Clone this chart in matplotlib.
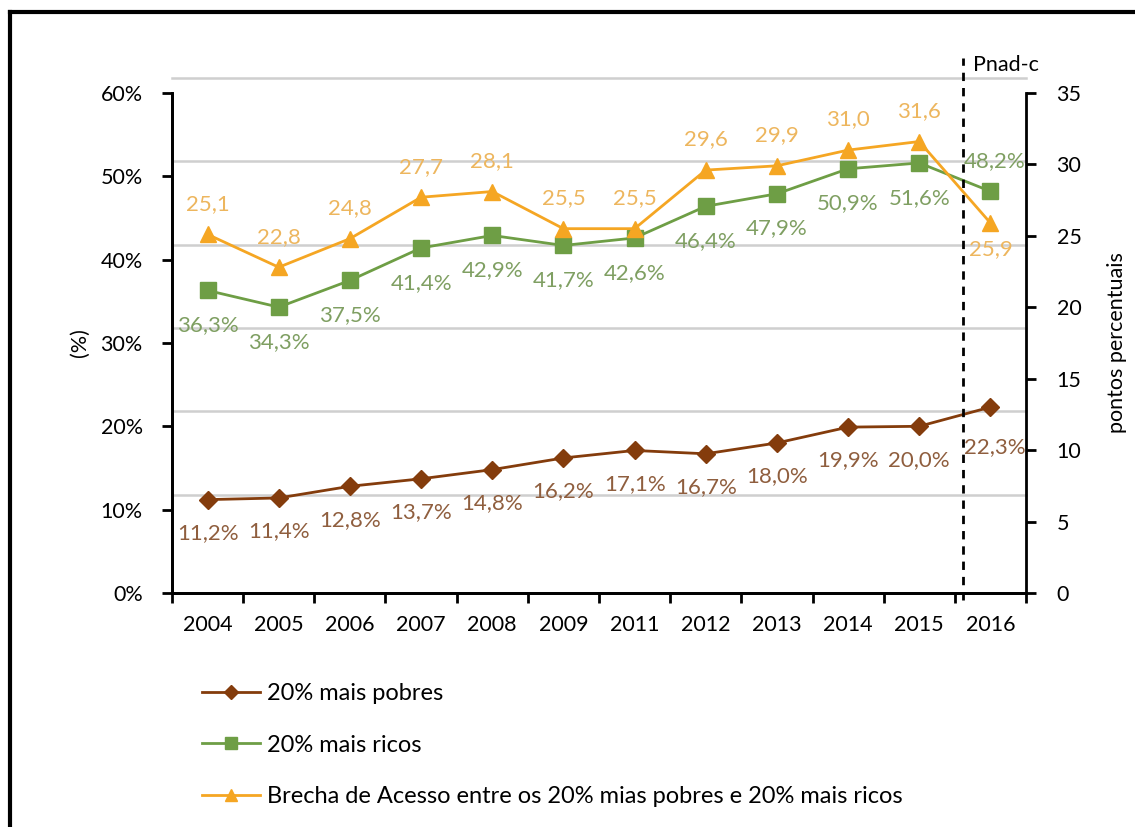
import matplotlib.pyplot as plt
from matplotlib.lines import Line2D

plt.rcParams['font.family'] = ['Lato', 'DejaVu Sans']

years = ['2004', '2005', '2006', '2007', '2008', '2009', '2011', '2012', '2013', '2014', '2015', '2016']
pobres = [11.2, 11.4, 12.8, 13.7, 14.8, 16.2, 17.1, 16.7, 18.0, 19.9, 20.0, 22.3]
ricos = [36.3, 34.3, 37.5, 41.4, 42.9, 41.7, 42.6, 46.4, 47.9, 50.9, 51.6, 48.2]
brecha = [25.1, 22.8, 24.8, 27.7, 28.1, 25.5, 25.5, 29.6, 29.9, 31.0, 31.6, 25.9]

c_pob, c_pob_txt = '#843C0C', '#8F5E3E'
c_ric, c_ric_txt = '#6E9E45', '#7F9F62'
c_bre, c_bre_txt = '#F5A623', '#EDB65E'

fig = plt.figure(figsize=(11.35, 8.27), dpi=100)
ax = fig.add_axes([172 / 1135, 0.283, (1026 - 172) / 1135, 0.6046])
ax2 = ax.twinx()

x = list(range(len(years)))

# offset gridlines as in the scanned original
for v in [10, 20, 30, 40, 50, 60]:
    ax.axhline(v + 1.8, xmin=0, xmax=1.0, color='#cfcfcf', lw=1.8, zorder=0, clip_on=False)

l1, = ax.plot(x, pobres, color=c_pob, marker='D', ms=9, lw=2, label='20% mais pobres', zorder=3)
l2, = ax.plot(x, ricos, color=c_ric, marker='s', ms=12, lw=2, label='20% mais ricos', zorder=3)
l3, = ax2.plot(x, brecha, color=c_bre, marker='^', ms=12, lw=2,
               label='Brecha de Acesso entre os 20% mias pobres e 20% mais ricos', zorder=3)

fs = 15.5
lfs = 16
for i, v in enumerate(pobres):
    off = (3, -29) if i == 11 else (0, -24)
    ax.annotate(f'{v:.1f}%'.replace('.', ','), (i, v), xytext=off,
                textcoords='offset points', ha='center', va='center', color=c_pob_txt, fontsize=lfs)
for i, v in enumerate(ricos):
    off = (3, 22) if i == 11 else (0, -25)
    ax.annotate(f'{v:.1f}%'.replace('.', ','), (i, v), xytext=off,
                textcoords='offset points', ha='center', va='center', color=c_ric_txt, fontsize=lfs)
for i, v in enumerate(brecha):
    off = (0, -19) if i == 11 else (0, 22)
    ax2.annotate(f'{v:.1f}'.replace('.', ','), (i, v), xytext=off,
                 textcoords='offset points', ha='center', va='center', color=c_bre_txt, fontsize=lfs)

ax.set_xlim(-0.5, len(years) - 0.5)
ax.set_ylim(0, 60)
ax2.set_ylim(0, 35)
ax.set_yticks(range(0, 61, 10))
ax.set_yticklabels([f'{v}%' for v in range(0, 61, 10)])
ax2.set_yticks(range(0, 36, 5))

ax.set_xticks([i - 0.5 for i in range(len(years) + 1)])
ax.set_xticklabels([])
ax.set_xticks(x, minor=True)
ax.set_xticklabels(years, minor=True)
ax.tick_params(axis='x', which='minor', length=0, pad=16, labelsize=fs)
ax.tick_params(axis='x', which='major', length=7, width=2, direction='out')
ax.tick_params(axis='y', length=7, width=2, labelsize=fs, pad=14)
ax2.tick_params(axis='y', length=7, width=2, labelsize=fs, pad=15)

for a in (ax, ax2):
    a.spines['top'].set_visible(False)
    for s in ('left', 'right', 'bottom'):
        a.spines[s].set_linewidth(2)
ax.spines['right'].set_visible(False)

ax.set_ylabel('(%)', fontsize=fs, labelpad=8)
ax2.set_ylabel('pontos percentuais', fontsize=fs, labelpad=18)

# Pnad-c marker
ax.axvline(10.62, ymin=-0.015, ymax=1.07, color='black', lw=2, ls=(0, (3, 2.5)), clip_on=False, zorder=4)
ax.text(10.76, 63.4, 'Pnad-c', fontsize=fs, va='center', ha='left')

fig.legend(handles=[l1, l2, l3], loc='upper left', bbox_to_anchor=(202 / 1135, 1 - 683 / 827),
           frameon=False, fontsize=17, labelspacing=1.3, handlelength=2.45, handletextpad=0.3,
           markerscale=0.75, borderpad=0, borderaxespad=0)

# outer frame (left and top)
fig.add_artist(Line2D([10 / 1135, 10 / 1135], [0, 1 - 12 / 827], color='black', lw=3))
fig.add_artist(Line2D([10 / 1135, 1], [1 - 12 / 827, 1 - 12 / 827], color='black', lw=3))

fig.savefig('out.png', dpi=100)
